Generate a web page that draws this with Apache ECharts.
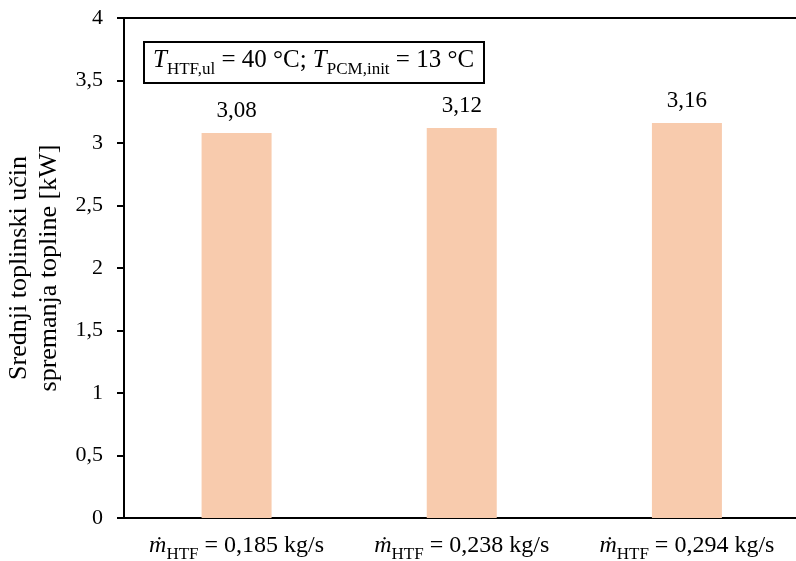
<!DOCTYPE html>
<html>
<head>
<meta charset="utf-8">
<script src="https://cdn.jsdelivr.net/npm/echarts@6/dist/echarts.min.js"></script>
<style>html,body{margin:0;padding:0;background:#fff}#c{width:796px;height:561px}</style>
</head>
<body>
<div id="c"></div>
<script>
const flowRates = ['0,185', '0,238', '0,294'];
const powerValues = [3.08, 3.12, 3.16];
const yTicks = [0, 0.5, 1, 1.5, 2, 2.5, 3, 3.5, 4];

const FONT = '"Liberation Serif", "Times New Roman", serif';
const chart = echarts.init(document.getElementById('c'));
const fmt = v => String(v).replace('.', ',');

chart.setOption({
  animation: false,
  textStyle: { fontFamily: FONT, color: '#000', fontWeight: 'normal' },
  title: {
    left: 144, top: 35,
    borderColor: '#000', borderWidth: 2,
    padding: [6, 10, 5, 9],
    text: '{i|T}{s|HTF,ul}{n| = 40 °C; }{i|T}{s|PCM,init}{n| = 13 °C}',
    textStyle: {
      fontFamily: FONT, fontWeight: 'normal',
      rich: {
        i: { fontFamily: FONT, fontWeight: 'normal', fontStyle: 'italic', fontSize: 25, color: '#000', lineHeight: 32, verticalAlign: 'bottom' },
        n: { fontFamily: FONT, fontWeight: 'normal', fontSize: 25, color: '#000', lineHeight: 32, verticalAlign: 'bottom' },
        s: { fontFamily: FONT, fontWeight: 'normal', fontSize: 17, color: '#000', lineHeight: 32, verticalAlign: 'bottom', padding: [0, 0, -5, 0] }
      }
    }
  },
  grid: { left: 124, right: -3.5, top: 18, bottom: 43, outerBoundsMode: 'none', containLabel: false },
  xAxis: [{
    type: 'category',
    data: flowRates,
    axisLine: { lineStyle: { color: '#000', width: 2 } },
    axisTick: { show: false },
    axisLabel: {
      margin: 14,
      formatter: v => '{i|ṁ}{s|HTF}{n| = ' + v + ' kg/s}',
      rich: {
        i: { fontFamily: FONT, fontStyle: 'italic', fontSize: 24, color: '#000', verticalAlign: 'bottom', lineHeight: 26 },
        n: { fontFamily: FONT, fontSize: 24, color: '#000', verticalAlign: 'bottom', lineHeight: 26 },
        s: { fontFamily: FONT, fontSize: 17, color: '#000', verticalAlign: 'bottom', lineHeight: 26, padding: [0, 0, -5, 0] }
      }
    }
  }, {
    type: 'category',
    position: 'top',
    data: flowRates,
    axisLine: { show: true, lineStyle: { color: '#000', width: 2 } },
    axisTick: { show: false },
    axisLabel: { show: false }
  }],
  yAxis: {
    type: 'value',
    min: 0, max: 4, interval: 0.5,
    name: 'Srednji toplinski učin\nspremanja topline [kW]',
    nameLocation: 'middle',
    nameGap: 56,
    nameTextStyle: { fontFamily: FONT, fontSize: 26, color: '#000', lineHeight: 30 },
    axisLine: { show: true, lineStyle: { color: '#000', width: 2 } },
    axisTick: { show: true, length: 7, lineStyle: { color: '#000', width: 2 } },
    axisLabel: { fontFamily: FONT, fontSize: 22, color: '#000', margin: 21, formatter: v => fmt(v) },
    splitLine: { show: false }
  },
  series: [{
    type: 'bar',
    data: powerValues,
    barWidth: 70,
    itemStyle: { color: '#F8CBAD' },
    label: {
      show: true, position: 'top', distance: 11,
      fontFamily: FONT, fontSize: 23, color: '#000',
      formatter: p => fmt(p.value.toFixed(2))
    }
  }]
});
</script>
</body>
</html>
